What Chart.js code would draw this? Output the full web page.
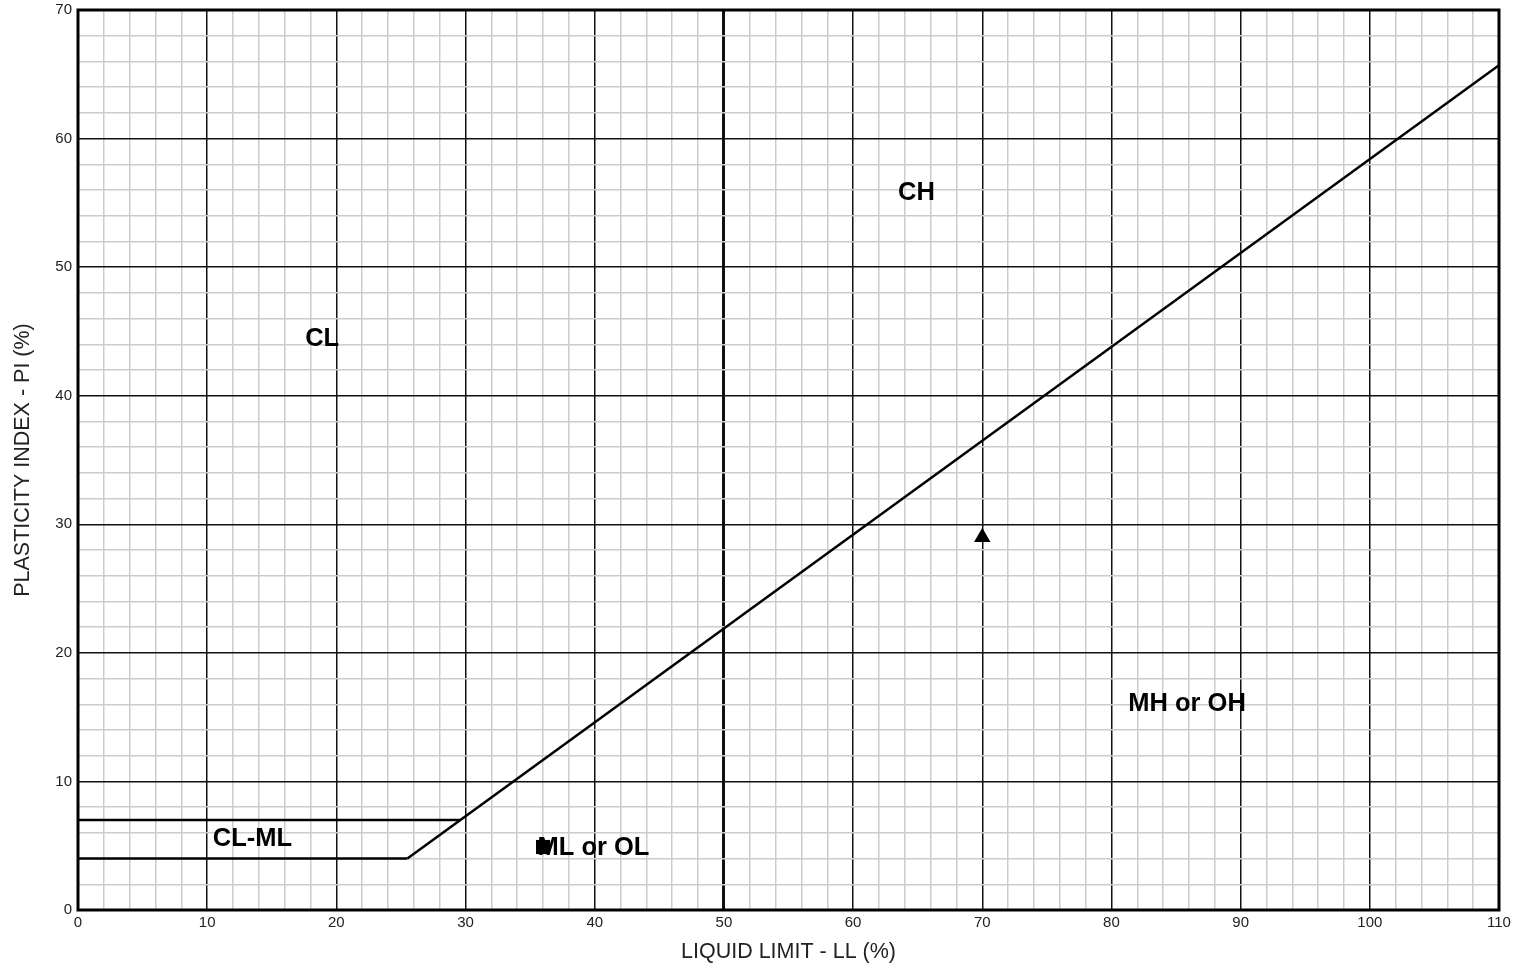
<!DOCTYPE html>
<html>
<head>
<meta charset="utf-8">
<script src="https://cdn.jsdelivr.net/npm/chart.js@4/dist/chart.umd.min.js"></script>
<style>
  html, body { margin: 0; padding: 0; background: #fff; }
  #wrap { width: 1522px; height: 971px; position: relative; }
</style>
</head>
<body>
<div id="wrap"><canvas id="c"></canvas></div>
<script>
// ---- data ----
const aLineLL = [25.5, 110];
const aLinePI = [4, 65.7];
const upperBandLL = [0, 29.6];
const upperBandPI = [7, 7];
const lowerBandLL = [0, 25.5];
const lowerBandPI = [4, 4];
const triangleLL = [70];
const trianglePI = [29];
const squareLL = [36];
const squarePI = [4.9];
const zoneNames = ['CL', 'CH', 'MH or OH', 'CL-ML', 'ML or OL'];
const zoneLL = [18.9, 64.9, 85.85, 13.5, 39.9];
const zonePI = [44.4, 55.8, 16.0, 5.5, 4.8];
const xTitle = 'LIQUID LIMIT - LL (%)';
const yTitle = 'PLASTICITY INDEX - PI (%)';

const pts = (xs, ys) => xs.map((x, i) => ({ x: x, y: ys[i] }));

const lineDs = (xs, ys) => ({
  data: pts(xs, ys), showLine: true, borderColor: '#000', borderWidth: 2.5,
  pointRadius: 0, fill: false
});

const zonePlugin = {
  id: 'zones',
  afterDatasetsDraw(chart) {
    const { ctx, scales } = chart;
    ctx.save();
    ctx.fillStyle = '#000';
    ctx.font = 'bold 25.5px "Liberation Sans", Arial, sans-serif';
    ctx.textAlign = 'center';
    ctx.textBaseline = 'middle';
    zoneNames.forEach((n, i) => {
      ctx.fillText(n, scales.x.getPixelForValue(zoneLL[i]), scales.y.getPixelForValue(zonePI[i]));
    });
    ctx.restore();
  },
  afterDraw(chart) {
    const { ctx, chartArea: a } = chart;
    ctx.save();
    ctx.strokeStyle = '#000';
    ctx.lineWidth = 3;
    ctx.strokeRect(a.left, a.top, a.right - a.left, a.bottom - a.top);
    ctx.restore();
  }
};

const gridColor = c => (c.tick && c.tick.value % 10 === 0) ? '#111' : '#cccccc';
const tickFont = { family: '"Liberation Sans", Arial, sans-serif', size: 15 };
const titleFont = { family: '"Liberation Sans", Arial, sans-serif', size: 21.5 };

new Chart(document.getElementById('c'), {
  type: 'scatter',
  data: {
    datasets: [
      lineDs(aLineLL, aLinePI),
      lineDs(upperBandLL, upperBandPI),
      lineDs(lowerBandLL, lowerBandPI),
      { data: pts(triangleLL, trianglePI), pointStyle: 'triangle', pointRadius: 9.5,
        backgroundColor: '#000', borderColor: '#000', borderWidth: 0 },
      { data: pts(squareLL, squarePI), pointStyle: 'rect', pointRadius: 10,
        backgroundColor: '#000', borderColor: '#000', borderWidth: 0 }
    ]
  },
  options: {
    responsive: true,
    maintainAspectRatio: false,
    animation: false,
    layout: { padding: { top: 8, right: 23, left: 0, bottom: 0 } },
    plugins: { legend: { display: false }, tooltip: { enabled: false } },
    scales: {
      x: {
        type: 'linear', min: 0, max: 110,
        afterFit: s => { s.height = 61; },
        ticks: {
          stepSize: 2, autoSkip: false, maxRotation: 0, color: '#222', font: tickFont, padding: 4,
          callback: v => (v % 10 === 0 ? String(v) : '')
        },
        grid: {
          drawTicks: false,
          color: gridColor,
          lineWidth: c => (c.tick && c.tick.value === 50) ? 3 : 1.5
        },
        border: { display: false },
        title: { display: true, text: xTitle, color: '#222', font: titleFont, padding: { top: 4, bottom: 6 } }
      },
      y: {
        type: 'linear', min: 0, max: 70,
        afterFit: s => { s.width = 78; s.paddingTop = 0; s.paddingBottom = 0; },
        ticks: {
          stepSize: 2, autoSkip: false, color: '#222', font: tickFont, padding: 6,
          callback: v => (v % 10 === 0 ? String(v) : '')
        },
        grid: { drawTicks: false, color: gridColor, lineWidth: 1.5 },
        border: { display: false },
        title: { display: true, text: yTitle, color: '#222', font: titleFont, padding: { top: 10, bottom: 4 } }
      }
    }
  },
  plugins: [zonePlugin]
});
</script>
</body>
</html>
